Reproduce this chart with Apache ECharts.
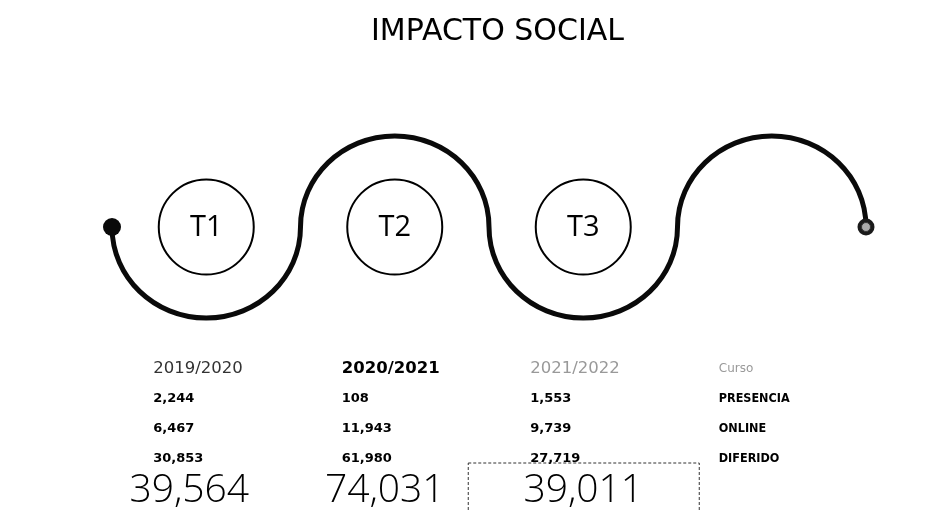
<!DOCTYPE html>
<html>
<head>
<meta charset="utf-8">
<script src="https://cdn.jsdelivr.net/npm/echarts@6/dist/echarts.min.js"></script>
<style>html,body{margin:0;padding:0;background:#fff}#c{width:939px;height:510px}</style>
</head>
<body>
<div id="c"></div>
<script>
// ---- data ----
var stages = ['T1', 'T2', 'T3'];
var years = ['2019/2020', '2020/2021', '2021/2022'];
var rowLabels = ['Curso', 'PRESENCIA', 'ONLINE', 'DIFERIDO'];
var presencia = [2244, 108, 1553];
var online = [6467, 11943, 9739];
var diferido = [30853, 61980, 27719];
var totals = [39564, 74031, 39011];
var waveDir = [1, -1, 1, -1]; // 1 = arc below, -1 = arc above
var bands = ['T1', 'T2', 'T3', ''];

function fmt(n) { return n.toLocaleString('en-US'); }

var chart = echarts.init(document.getElementById('c'));

// table cells
var tableData = [];
var headerStyles = [
  {color: '#333', fontWeight: 'normal'},
  {color: '#000', fontWeight: 'bold'},
  {color: '#999', fontWeight: 'normal'}
];
var totalOffsets = [-17, -10, 0];
var cols = [presencia, online, diferido];
years.forEach(function (y, i) {
  tableData.push({value: [i, 0], label: Object.assign({formatter: y, fontSize: 16.5, fontFamily: 'DejaVu Sans', offset: [-53, 0]}, headerStyles[i])});
  cols.forEach(function (arr, r) {
    tableData.push({value: [i, r + 1], label: {formatter: fmt(arr[i]), fontSize: 13, fontWeight: 'bold', fontFamily: 'DejaVu Sans', color: '#000', offset: [-53, 0]}});
  });
  tableData.push({value: [i, 4], label: {formatter: fmt(totals[i]), fontSize: 39, fontWeight: 300, color: '#000', align: 'center', offset: [totalOffsets[i], 2]}});
});
rowLabels.forEach(function (lab, r) {
  tableData.push({value: [3, r], label: r === 0 ?
    {formatter: lab, fontSize: 12, color: '#999', fontWeight: 'normal', fontFamily: 'DejaVu Sans', offset: [-53, 0]} :
    {formatter: lab, fontSize: 12.5, color: '#000', fontWeight: 'bold', fontFamily: 'DejaVu Sans Condensed', offset: [-53, 0]}});
});

var option = {
  backgroundColor: '#fff',
  animation: false,
  title: {
    text: 'IMPACTO SOCIAL', left: 366, top: 12,
    textStyle: {fontFamily: 'DejaVu Sans', fontSize: 30, fontWeight: 'normal', color: '#000'}
  },
  textStyle: {fontFamily: 'Open Sans'},
  grid: [
    {left: 112, right: 73, top: 136, height: 182},
    {left: 112, right: 73, top: 354, height: 150}
  ],
  xAxis: [
    {type: 'category', data: bands, gridIndex: 0, show: false},
    {type: 'category', data: bands, gridIndex: 1, show: false}
  ],
  yAxis: [
    {type: 'value', min: -1, max: 1, gridIndex: 0, show: false, inverse: true},
    {type: 'category', data: ['h', 'p', 'o', 'd', 't'], gridIndex: 1, show: false, inverse: true}
  ],
  series: [
    {
      type: 'custom', xAxisIndex: 0, yAxisIndex: 0, silent: true,
      data: waveDir.map(function (d, i) { return [i, d]; }),
      renderItem: function (params, api) {
        var i = api.value(0), s = api.value(1);
        var c = api.coord([i, 0]);
        var rx = api.size([1, 0])[0] / 2;
        var ry = Math.abs(api.coord([i, 1])[1] - c[1]) * s;
        var k = 0.5523;
        var cx = c[0], cy = c[1];
        var d = 'M' + (cx - rx) + ' ' + cy +
          ' C' + (cx - rx) + ' ' + (cy + k * ry) + ' ' + (cx - k * rx) + ' ' + (cy + ry) + ' ' + cx + ' ' + (cy + ry) +
          ' C' + (cx + k * rx) + ' ' + (cy + ry) + ' ' + (cx + rx) + ' ' + (cy + k * ry) + ' ' + (cx + rx) + ' ' + cy;
        var children = [{type: 'path', shape: {pathData: d}, style: {fill: null, stroke: '#0a0a0a', lineWidth: 5}}];
        if (i === 0) {
          children.push({type: 'circle', shape: {cx: cx - rx, cy: cy, r: 9}, style: {fill: '#0a0a0a'}});
        }
        if (i === waveDir.length - 1) {
          children.push({type: 'circle', shape: {cx: cx + rx, cy: cy, r: 8.5}, style: {fill: '#1a1a1a'}});
          children.push({type: 'circle', shape: {cx: cx + rx, cy: cy, r: 4.5}, style: {fill: '#aaa', stroke: '#333', lineWidth: 1}});
        }
        return {type: 'group', children: children};
      }
    },
    {
      type: 'scatter', xAxisIndex: 0, yAxisIndex: 0, silent: true,
      symbol: 'circle', symbolSize: 95,
      itemStyle: {color: '#fff', borderColor: '#000', borderWidth: 2, opacity: 1},
      label: {show: true, formatter: '{b}', fontSize: 29, fontWeight: 'normal', color: '#000', textBorderWidth: 0, fontFamily: 'Open Sans', offset: [0, 1]},
      data: stages.map(function (s, i) { return {name: s, value: [i, 0]}; })
    },
    {
      type: 'custom', xAxisIndex: 1, yAxisIndex: 1, silent: true,
      data: [[2, 4]],
      renderItem: function (params, api) {
        var c = api.coord([api.value(0), api.value(1)]);
        return {type: 'rect', shape: {x: c[0] - 115, y: c[1] - 26, width: 231, height: 60},
          style: {fill: null, stroke: '#333', lineWidth: 1, lineDash: [3, 2]}};
      }
    },
    {
      type: 'scatter', xAxisIndex: 1, yAxisIndex: 1, silent: true,
      symbolSize: 1, itemStyle: {color: 'rgba(0,0,0,0)', opacity: 1},
      label: {show: true, position: 'inside', align: 'left', verticalAlign: 'middle', fontFamily: 'Open Sans', textBorderWidth: 0},
      data: tableData
    }
  ]
};
chart.setOption(option);
</script>
</body>
</html>
